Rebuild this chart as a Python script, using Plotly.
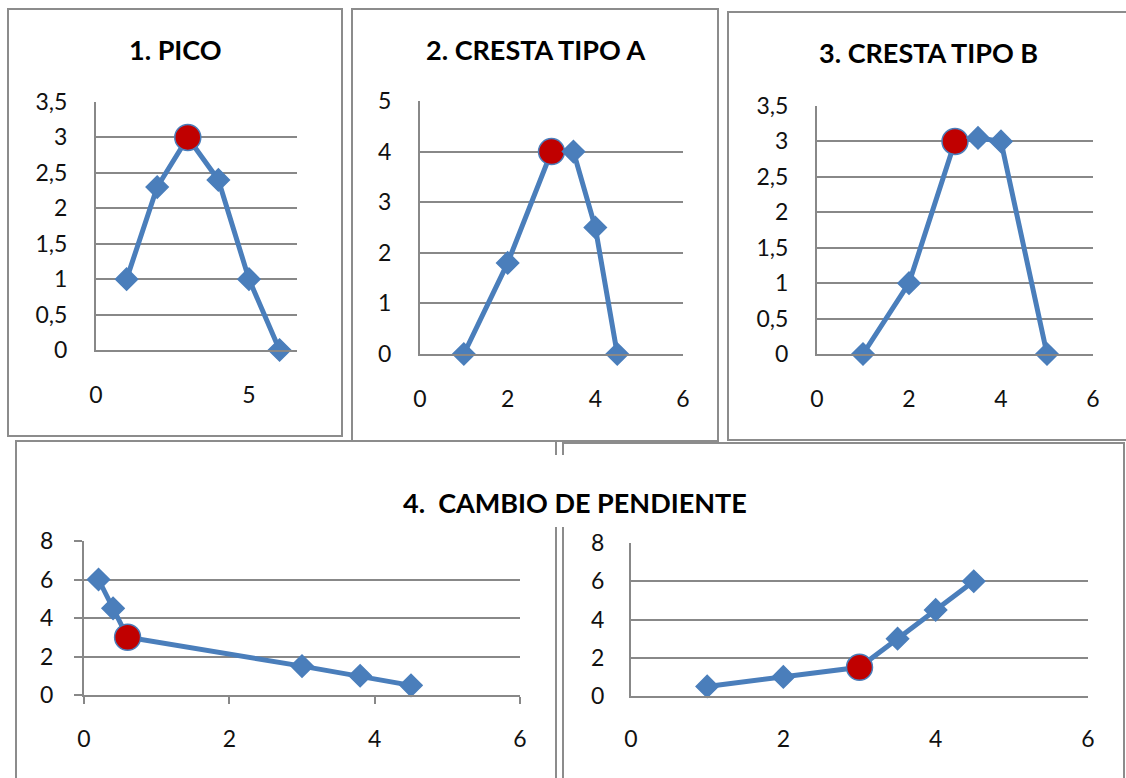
import plotly.graph_objects as go

W, H = 1126, 778

# ---- data -------------------------------------------------------------
pico_x = [1, 2, 3, 4, 5, 6]
pico_y = [1, 2.3, 3, 2.4, 1, 0]
pico_peak = 2

crestaA_x = [1, 2, 3, 3.5, 4, 4.5]
crestaA_y = [0, 1.8, 4, 4, 2.5, 0]
crestaA_peak = 2

crestaB_x = [1, 2, 3, 3.5, 4, 5]
crestaB_y = [0, 1, 3, 3.05, 3, 0]
crestaB_peak = 2

bajada_x = [0.2, 0.4, 0.6, 3, 3.8, 4.5]
bajada_y = [6, 4.5, 3, 1.5, 1, 0.5]
bajada_peak = 2

subida_x = [1, 2, 3, 3.5, 4, 4.5]
subida_y = [0.5, 1, 1.5, 3, 4.5, 6]
subida_peak = 2

titles = ["1. PICO", "2. CRESTA TIPO A", "3. CRESTA TIPO B", "4.  CAMBIO DE PENDIENTE"]

# ---- styling ----------------------------------------------------------
BLUE = "#4A7EBB"
RED = "#C00000"
GRID = "#888888"
BORDER = "#8C8C8C"
FONT = "Lato"
TICK_FONT = dict(family=FONT, size=23, color="#111111")


def px_x(a, b):
    return [a / W, b / W]


def px_y(top, bottom):
    return [1 - bottom / H, 1 - top / H]


fig = go.Figure()

# (x, y, peak index, x domain px, y domain px, x range, y range, x dtick, y dtick,
#  outside ticks, x label standoff, y label standoff)
panels = [
    (pico_x, pico_y, pico_peak, (96, 297), (102, 350), [0, 6.57], [0, 3.5], 5, 0.5, False, 23, 22),
    (crestaA_x, crestaA_y, crestaA_peak, (420, 683), (101, 354), [0, 6], [0, 5], 2, 1, False, 23, 22),
    (crestaB_x, crestaB_y, crestaB_peak, (817, 1093), (106, 354), [0, 6], [0, 3.5], 2, 0.5, False, 23, 22),
    (bajada_x, bajada_y, bajada_peak, (84, 520), (541, 695), [0, 6], [0, 8], 2, 2, True, 15, 16),
    (subida_x, subida_y, subida_peak, (631, 1088), (543, 696), [0, 6], [0, 8], 2, 2, False, 21, 20),
]

layout = {}
for i, (xs, ys, pk, dx, dy, xr, yr, xd, yd, ticks, xso, yso) in enumerate(panels, start=1):
    sfx = "" if i == 1 else str(i)
    n = len(xs)
    symbols = ["circle" if k == pk else "diamond" for k in range(n)]
    colors = [RED if k == pk else BLUE for k in range(n)]
    sizes = [26 if k == pk else 17 for k in range(n)]
    fig.add_trace(go.Scatter(
        x=xs, y=ys, mode="lines+markers",
        line=dict(color=BLUE, width=5),
        marker=dict(symbol=symbols, color=colors, size=sizes, opacity=1,
                    line=dict(color=BLUE, width=1.5)),
        cliponaxis=False, showlegend=False, hoverinfo="skip",
        xaxis="x" + sfx, yaxis="y" + sfx,
    ))
    tick_mode = "outside" if ticks else ""
    layout["xaxis" + sfx] = dict(
        domain=px_x(*dx), range=xr, dtick=xd, tick0=0, automargin=False,
        showgrid=False, zeroline=False,
        showline=True, linecolor=GRID, linewidth=2,
        ticks=tick_mode, ticklen=7, tickwidth=2, tickcolor=GRID,
        ticklabelstandoff=xso, tickfont=TICK_FONT,
        anchor="y" + sfx, fixedrange=True,
    )
    layout["yaxis" + sfx] = dict(
        domain=px_y(*dy), range=yr, dtick=yd, tick0=0, automargin=False,
        showgrid=True, gridcolor=GRID, gridwidth=2, zeroline=False,
        showline=True, linecolor=GRID, linewidth=2,
        ticks=tick_mode, ticklen=8, tickwidth=2, tickcolor=GRID,
        ticklabelstandoff=yso, tickfont=TICK_FONT,
        anchor="x" + sfx, fixedrange=True,
    )


def rect(x0, y0, x1, y1, **kw):
    return dict(type="rect", xref="paper", yref="paper",
                x0=x0 / W, x1=x1 / W, y0=1 - y1 / H, y1=1 - y0 / H, **kw)


border = dict(line=dict(color=BORDER, width=2), fillcolor="rgba(0,0,0,0)", layer="below")
shapes = [
    rect(8, 9, 342, 436, **border),
    rect(352, 9, 718, 441, **border),
    rect(728, 12, 1140, 440, **border),
    rect(16, 441, 556, 790, **border),
    rect(563, 443, 1124, 790, **border),
    # white backing behind the shared title of the bottom pair
    dict(type="rect", xref="paper", yref="paper",
         x0=392 / W, x1=758 / W, y0=1 - 527 / H, y1=1 - 455 / H,
         line=dict(width=0), fillcolor="white", layer="below"),
]

title_pos = [(175, 50), (535, 50), (928, 53), (575, 502)]
annotations = [
    dict(text="<b>%s</b>" % t, x=cx / W, y=1 - cy / H, xref="paper", yref="paper",
         showarrow=False, xanchor="center", yanchor="middle",
         font=dict(family=FONT, size=27, color="#000000"))
    for t, (cx, cy) in zip(titles, title_pos)
]

fig.update_layout(
    width=W, height=H, margin=dict(l=0, r=0, t=0, b=0, autoexpand=False),
    paper_bgcolor="white", plot_bgcolor="white",
    separators=",.", shapes=shapes, annotations=annotations,
    **layout,
)

fig.write_html("out.html")
